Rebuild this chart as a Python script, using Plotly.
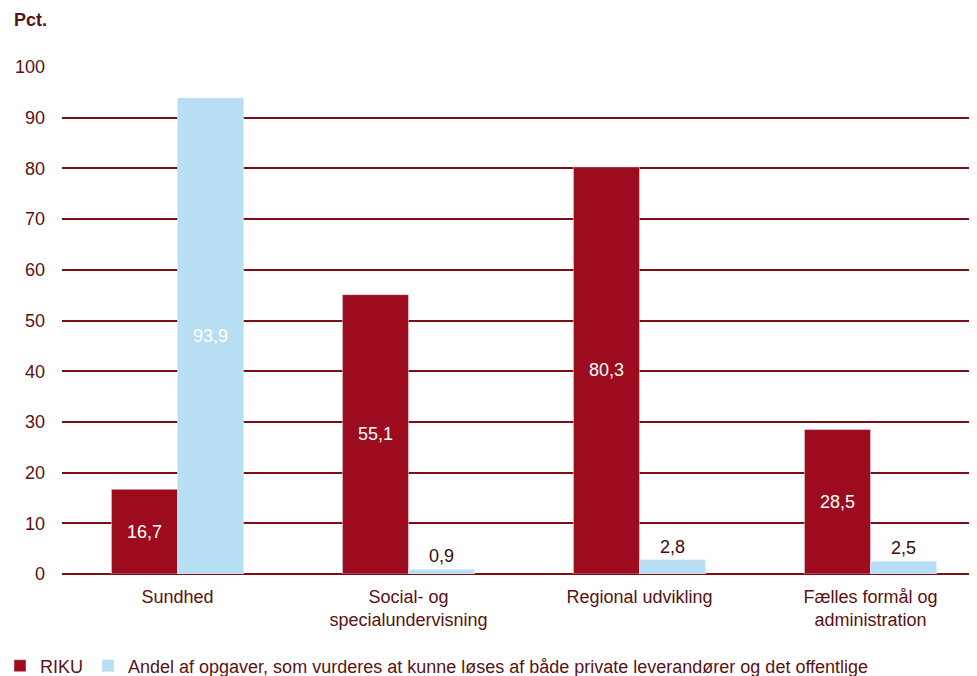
import plotly.graph_objects as go

categories = ["Sundhed", "Social- og<br>specialundervisning", "Regional udvikling", "Fælles formål og<br>administration"]
riku = [16.7, 55.1, 80.3, 28.5]
andel = [93.9, 0.9, 2.8, 2.5]
riku_labels = ["16,7", "55,1", "80,3", "28,5"]
andel_labels = ["93,9", "0,9", "2,8", "2,5"]

RED = "#9c0c1e"
BLUE = "#b8def4"
DARK = "#5a1212"
FONT = "Liberation Sans, Arial, sans-serif"
FS = 18

# page has an 8px body margin; figure is sized to fill the rest of the window
OFF = 8
W, H = 977 - OFF, 676 - OFF
L, T, B = 62 - OFF, 67 - OFF, 676 - 574
PW, PH = W - L, H - T - B

def positions(vals):
    return ["inside" if v > 10 else "outside" for v in vals]

def colors(vals):
    return ["white" if v > 10 else "#3a0a0a" for v in vals]

fig = go.Figure()
fig.add_trace(go.Bar(
    x=categories, y=riku, name="RIKU", marker_color=RED,
    text=riku_labels, textposition=positions(riku), insidetextanchor="middle",
    textfont=dict(color=colors(riku), size=FS, family=FONT),
    cliponaxis=False,
))
fig.add_trace(go.Bar(
    x=categories, y=andel,
    name="Andel af opgaver, som vurderes at kunne løses af både private leverandører og det offentlige",
    marker_color=BLUE,
    text=andel_labels, textposition=positions(andel), insidetextanchor="middle",
    textfont=dict(color=colors(andel), size=FS, family=FONT),
    cliponaxis=False,
))

fig.update_layout(
    width=W, height=H,
    margin=dict(l=L, r=0, t=T, b=B, autoexpand=False),
    paper_bgcolor="white", plot_bgcolor="white",
    barmode="group", bargap=0.428, bargroupgap=0,
    font=dict(family=FONT, size=FS, color=DARK),
    showlegend=True,
    legend=dict(orientation="h", x=-(L + OFF) / PW, xanchor="left",
                y=-(666 - 574) / PH, yanchor="middle",
                font=dict(size=FS, color=DARK), itemwidth=30, tracegroupgap=0,
                traceorder="normal"),
    annotations=[dict(text="<b>Pct.</b>", x=-(L - 4) / PW, xref="paper", xanchor="left",
                      y=1 + (T - 12) / PH, yref="paper", yanchor="middle", showarrow=False,
                      font=dict(size=FS, color=DARK, family=FONT))],
)

fig.update_xaxes(range=[-0.5, 3.461], showgrid=False, showline=False, ticks="",
                 ticklabelstandoff=10,
                 tickfont=dict(size=FS, color=DARK, family=FONT), fixedrange=True)
fig.update_yaxes(range=[0, 100], dtick=10, showgrid=True, gridcolor="#7a1016", gridwidth=2,
                 zeroline=True, zerolinecolor="#7a1016", zerolinewidth=2,
                 showline=False, ticks="", ticklabelstandoff=16,
                 tickfont=dict(size=FS, color=DARK, family=FONT), fixedrange=True)

fig.write_html("out.html", config={"displayModeBar": False})
